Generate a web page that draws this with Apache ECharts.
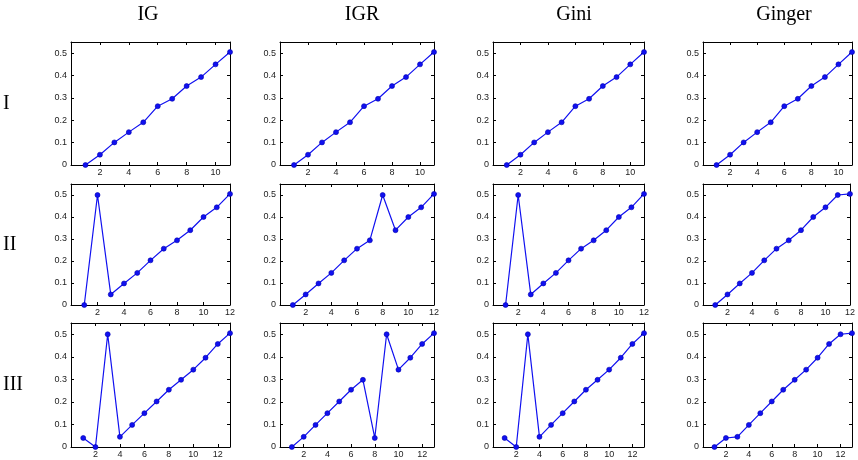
<!DOCTYPE html>
<html>
<head>
<meta charset="utf-8">
<script src="https://cdn.jsdelivr.net/npm/echarts@6/dist/echarts.min.js"></script>
<style>
  html, body { margin: 0; padding: 0; background: #fff; }
  #main { width: 858px; height: 460px; }
</style>
</head>
<body>
<div id="main"></div>
<script>
// column / row headings
const colTitles = ['IG', 'IGR', 'Gini', 'Ginger'];
const rowTitles = ['I', 'II', 'III'];

// row I (x = 1..11), all four criteria give the same curve
const igI = [0, 0.046, 0.101, 0.147, 0.191, 0.263, 0.296, 0.353, 0.393, 0.45, 0.505];
const igrI = [0, 0.046, 0.101, 0.147, 0.191, 0.263, 0.296, 0.353, 0.393, 0.45, 0.505];
const giniI = [0, 0.046, 0.101, 0.147, 0.191, 0.263, 0.296, 0.353, 0.393, 0.45, 0.505];
const gingerI = [0, 0.046, 0.101, 0.147, 0.191, 0.263, 0.296, 0.353, 0.393, 0.45, 0.505];

// row II (x = 1..12)
const igII = [0, 0.5, 0.048, 0.098, 0.146, 0.203, 0.256, 0.294, 0.34, 0.4, 0.444, 0.505];
const igrII = [0, 0.048, 0.098, 0.146, 0.203, 0.256, 0.294, 0.5, 0.34, 0.4, 0.444, 0.505];
const giniII = [0, 0.5, 0.048, 0.098, 0.146, 0.203, 0.256, 0.294, 0.34, 0.4, 0.444, 0.505];
const gingerII = [0, 0.048, 0.098, 0.146, 0.203, 0.256, 0.294, 0.34, 0.4, 0.444, 0.5, 0.505];

// row III (x = 1..13)
const igIII = [0.04, 0, 0.5, 0.045, 0.098, 0.15, 0.202, 0.254, 0.298, 0.343, 0.396, 0.457, 0.505];
const igrIII = [0, 0.045, 0.098, 0.15, 0.202, 0.254, 0.298, 0.04, 0.5, 0.343, 0.396, 0.457, 0.505];
const giniIII = [0.04, 0, 0.5, 0.045, 0.098, 0.15, 0.202, 0.254, 0.298, 0.343, 0.396, 0.457, 0.505];
const gingerIII = [0, 0.04, 0.045, 0.098, 0.15, 0.202, 0.254, 0.298, 0.343, 0.396, 0.457, 0.5, 0.505];

const panels = [
  [igI, igrI, giniI, gingerI],
  [igII, igrII, giniII, gingerII],
  [igIII, igrIII, giniIII, gingerIII],
];
const xMax = [11, 12, 13];

// layout of the small plots
const colLeft = [71, 280, 493, 703];
const colWidth = [159, 154, 151, 149];
const rowTop = [42, 184, 323];
const rowHeight = [123, 121, 124];
const titleX = [148, 362, 574, 784];

const grids = [], xAxes = [], yAxes = [], series = [];
const lineColor = '#1010f0';
const labelStyle = { fontSize: 9, color: '#222', fontFamily: 'Liberation Sans, Arial, sans-serif' };

panels.forEach((row, r) => {
  row.forEach((vals, c) => {
    const g = grids.length;
    const xm = xMax[r];
    grids.push({ left: colLeft[c], top: rowTop[r], width: colWidth[c], height: rowHeight[r] });

    const xBase = {
      gridIndex: g, type: 'value', min: 0, max: xm, interval: 2,
      axisLine: { show: true, onZero: false, lineStyle: { color: '#000', width: 1 } },
      axisTick: { show: true, inside: true, length: 3, lineStyle: { color: '#000' } },
      splitLine: { show: false },
    };
    xAxes.push(Object.assign({}, xBase, {
      position: 'bottom',
      axisLabel: Object.assign({ margin: 3, formatter: v => (v === 0 || v === xm && xm % 2) ? '' : String(v) }, labelStyle),
    }));
    xAxes.push(Object.assign({}, xBase, { position: 'top', axisLabel: { show: false } }));

    const yBase = {
      gridIndex: g, type: 'value', min: 0, max: 0.55, interval: 0.1,
      axisLine: { show: true, onZero: false, lineStyle: { color: '#000', width: 1 } },
      axisTick: { show: true, inside: true, length: 3, lineStyle: { color: '#000' } },
      splitLine: { show: false },
    };
    yAxes.push(Object.assign({}, yBase, {
      position: 'left',
      axisLabel: Object.assign({ margin: 4, formatter: v => v > 0.52 ? '' : (v === 0 ? '0' : v.toFixed(1)) }, labelStyle),
    }));
    yAxes.push(Object.assign({}, yBase, { position: 'right', axisLabel: { show: false } }));

    series.push({
      type: 'line',
      xAxisIndex: g * 2,
      yAxisIndex: g * 2,
      data: vals.map((v, i) => [i + 1, v]),
      symbol: 'circle',
      symbolSize: 5,
      showAllSymbol: true,
      lineStyle: { color: lineColor, width: 1.2 },
      itemStyle: { color: lineColor, borderColor: '#0000b0', borderWidth: 0.6 },
      animation: false,
    });
  });
});

const graphics = [];
colTitles.forEach((t, c) => {
  graphics.push({
    type: 'text', x: titleX[c], y: 15,
    style: { text: t, align: 'center', verticalAlign: 'middle', font: '20px "Liberation Serif", "Times New Roman", serif', fill: '#000' },
  });
});
rowTitles.forEach((t, r) => {
  graphics.push({
    type: 'text', x: 3, y: rowTop[r] + rowHeight[r] / 2,
    style: { text: t, align: 'left', verticalAlign: 'middle', font: '20px "Liberation Serif", "Times New Roman", serif', fill: '#000' },
  });
});

const myChart = echarts.init(document.getElementById('main'));
myChart.setOption({
  animation: false,
  backgroundColor: '#fff',
  grid: grids,
  xAxis: xAxes,
  yAxis: yAxes,
  series: series,
  graphic: graphics,
});
</script>
</body>
</html>
